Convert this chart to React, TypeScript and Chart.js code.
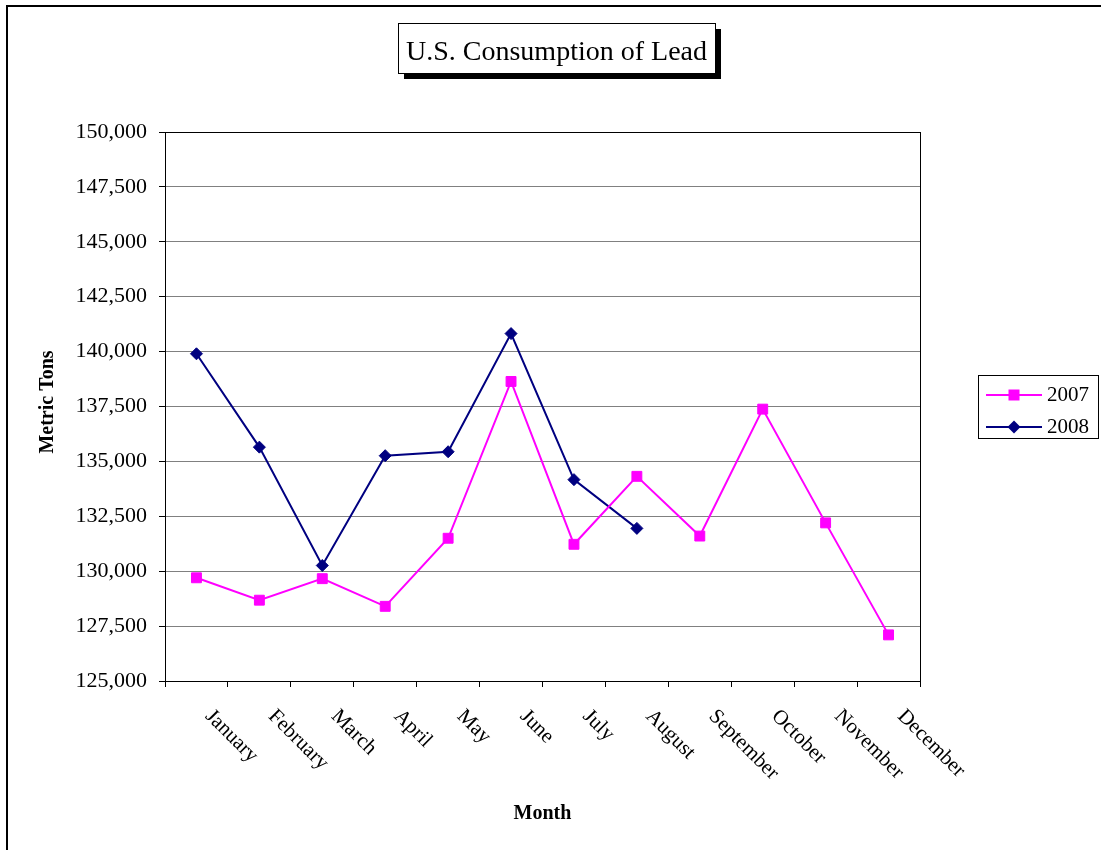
import React, { useEffect, useRef } from "react";
import { Chart, registerables } from "chart.js";

Chart.register(...registerables);

const months = ["January", "February", "March", "April", "May", "June", "July", "August", "September", "October", "November", "December"];
const series2007 = [129700, 128680, 129660, 128400, 131500, 138640, 131225, 134320, 131600, 137380, 132200, 127100];
const series2008 = [139900, 135650, 130260, 135260, 135440, 140820, 134170, 131950];
const yMin = 125000;
const yMax = 150000;
const yStep = 2500;
const titleText = "U.S. Consumption of Lead";
const yTitle = "Metric Tons";
const xTitle = "Month";

const PINK = "#FF00FF";
const NAVY = "#000080";
const SERIF = "'Liberation Serif', 'Times New Roman', serif";

const decorPlugin = {
  id: "decor",
  beforeDraw(chart: any) {
    const ctx = chart.ctx;
    ctx.save();
    ctx.fillStyle = "#fff";
    ctx.fillRect(0, 0, chart.width, chart.height);
    ctx.strokeStyle = "#000";
    ctx.lineWidth = 2;
    ctx.strokeRect(7, 6, chart.width + 20, chart.height + 20);
    ctx.restore();
  },
  beforeDatasetsDraw(chart: any) {
    const { ctx, chartArea } = chart;
    ctx.save();
    ctx.strokeStyle = "#000";
    ctx.lineWidth = 1;
    ctx.strokeRect(Math.round(chartArea.left) + 0.5, Math.round(chartArea.top) + 0.5, Math.round(chartArea.right - chartArea.left), Math.round(chartArea.bottom - chartArea.top));
    ctx.restore();
  },
  afterDraw(chart: any) {
    const { ctx, chartArea } = chart;
    const xs = chart.scales.x;
    ctx.save();
    ctx.fillStyle = "#000";
    ctx.font = `21px ${SERIF}`;
    ctx.textAlign = "left";
    ctx.textBaseline = "middle";
    months.forEach((m, i) => {
      const x = xs.getPixelForValue(i);
      ctx.save();
      ctx.translate(x + 12, chartArea.bottom + 32);
      ctx.rotate(Math.PI / 4);
      ctx.fillText(m, 0, 0);
      ctx.restore();
    });
    ctx.font = `bold 20px ${SERIF}`;
    ctx.textAlign = "center";
    ctx.textBaseline = "middle";
    ctx.fillText(xTitle, (chartArea.left + chartArea.right) / 2, 814);
    ctx.save();
    ctx.translate(48, 402);
    ctx.rotate(-Math.PI / 2);
    ctx.fillText(yTitle, 0, 0);
    ctx.restore();
    const bx = 398, by = 23, bw = 317, bh = 50;
    ctx.fillStyle = "#000";
    ctx.fillRect(bx + 6, by + 6, bw, bh);
    ctx.fillStyle = "#fff";
    ctx.fillRect(bx, by, bw, bh);
    ctx.strokeStyle = "#000";
    ctx.lineWidth = 1;
    ctx.strokeRect(bx + 0.5, by + 0.5, bw, bh);
    ctx.fillStyle = "#000";
    ctx.font = `28px ${SERIF}`;
    ctx.textAlign = "center";
    ctx.textBaseline = "alphabetic";
    ctx.fillText(titleText, bx + bw / 2, 60);
    const lx = 978, ly = 375, lw = 120, lh = 63;
    ctx.strokeStyle = "#000";
    ctx.strokeRect(lx + 0.5, ly + 0.5, lw, lh);
    const entries = chart.data.datasets.map((d: any, i: number) => ({ label: d.label, color: d.borderColor, style: d.pointStyle, y: i === 0 ? 395 : 427 }));
    entries.forEach((e: any) => {
      ctx.strokeStyle = e.color;
      ctx.lineWidth = 2;
      ctx.beginPath();
      ctx.moveTo(986, e.y);
      ctx.lineTo(1042, e.y);
      ctx.stroke();
      ctx.fillStyle = e.color;
      const cx = 1014;
      if (e.style === "rect") {
        ctx.fillRect(cx - 5.5, e.y - 5.5, 11, 11);
      } else {
        ctx.beginPath();
        ctx.moveTo(cx, e.y - 6.5);
        ctx.lineTo(cx + 6.5, e.y);
        ctx.lineTo(cx, e.y + 6.5);
        ctx.lineTo(cx - 6.5, e.y);
        ctx.closePath();
        ctx.fill();
      }
      ctx.fillStyle = "#000";
      ctx.font = `21px ${SERIF}`;
      ctx.textAlign = "left";
      ctx.textBaseline = "middle";
      ctx.fillText(e.label, 1047, e.y);
    });
    ctx.restore();
  },
};

export default function App() {
  const ref = useRef<HTMLCanvasElement | null>(null);
  useEffect(() => {
    if (!ref.current) return;
    const chart = new Chart(ref.current, {
      type: "line",
      data: {
        labels: months,
        datasets: [
          {
            label: "2007",
            data: series2007,
            borderColor: PINK,
            backgroundColor: PINK,
            borderWidth: 2,
            pointStyle: "rect",
            pointRadius: 7,
            pointBorderWidth: 1,
            pointBackgroundColor: PINK,
            pointBorderColor: PINK,
            tension: 0,
          },
          {
            label: "2008",
            data: series2008,
            borderColor: NAVY,
            backgroundColor: NAVY,
            borderWidth: 2,
            pointStyle: "rectRot",
            pointRadius: 6,
            pointBorderWidth: 1,
            pointBackgroundColor: NAVY,
            pointBorderColor: NAVY,
            tension: 0,
          },
        ],
      },
      options: {
        responsive: false,
        animation: false,
        devicePixelRatio: 1,
        layout: { padding: { left: 0, top: 132, right: 181, bottom: 0 } },
        plugins: {
          legend: { display: false },
          title: { display: false },
          tooltip: { enabled: false },
        },
        scales: {
          x: {
            type: "category",
            offset: true,
            grid: { display: true, drawOnChartArea: false, drawTicks: true, tickLength: 6, color: "#000", tickColor: "#000", offset: true },
            border: { display: true, color: "#000", width: 1 },
            ticks: { display: false },
            afterFit(scale: any) {
              scale.height = 169;
            },
          },
          y: {
            min: yMin,
            max: yMax,
            grid: { color: "#808080", tickColor: "#000", tickLength: 6, lineWidth: 1 },
            border: { display: true, color: "#000", width: 1 },
            ticks: {
              stepSize: yStep,
              padding: 12,
              color: "#000",
              font: { family: SERIF, size: 22 },
              callback: (v: any) => Number(v).toLocaleString("en-US"),
            },
            afterFit(scale: any) {
              scale.width = 165;
            },
          },
        },
      },
      plugins: [decorPlugin],
    });
    return () => chart.destroy();
  }, []);
  return (
    <div style={{ position: "fixed", left: 0, top: 0, width: 1101, height: 850, background: "#fff" }}>
      <canvas ref={ref} width={1101} height={850} style={{ width: 1101, height: 850, display: "block" }} />
    </div>
  );
}
